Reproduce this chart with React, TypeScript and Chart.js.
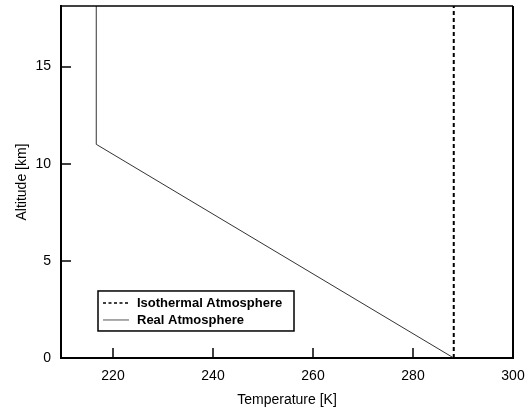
import React, { useEffect, useRef } from "react";
import { Chart, registerables } from "chart.js";

Chart.register(...registerables);

// Temperature profiles [K] against altitude [km]
const realTemps = [288.15, 216.65, 216.65];
const realAlts = [0, 11, 20];
const isoTemps = [288.15, 288.15];
const isoAlts = [0, 20];

const xTicks = [220, 240, 260, 280, 300];
const yTicks = [0, 5, 10, 15];

const seriesLabels = ["Isothermal Atmosphere", "Real Atmosphere"];

const FONT = "'Liberation Sans', Arial, Helvetica, sans-serif";

// Frame, inward tick marks and boxed legend
const framePlugin = {
  id: "frame",
  afterDraw(chart: any) {
    const { ctx, chartArea } = chart;
    const { left, right, top, bottom } = chartArea;
    const xs = chart.scales.x;
    const ys = chart.scales.y;
    ctx.save();
    ctx.strokeStyle = "#000";
    // top and right edges
    ctx.lineWidth = 1.5;
    ctx.beginPath();
    ctx.moveTo(left, top);
    ctx.lineTo(right, top);
    ctx.stroke();
    ctx.lineWidth = 2;
    ctx.beginPath();
    ctx.moveTo(right, top);
    ctx.lineTo(right, bottom);
    ctx.stroke();
    // inward ticks
    ctx.lineWidth = 1.5;
    for (const v of xTicks) {
      const px = Math.round(xs.getPixelForValue(v));
      ctx.beginPath();
      ctx.moveTo(px, bottom);
      ctx.lineTo(px, bottom - 10);
      ctx.stroke();
    }
    for (const v of yTicks) {
      const py = Math.round(ys.getPixelForValue(v));
      ctx.beginPath();
      ctx.moveTo(left, py);
      ctx.lineTo(left + 10, py);
      ctx.stroke();
    }
    // legend box
    const bx = xs.getPixelForValue(217.0);
    const by = ys.getPixelForValue(3.45);
    const bw = 196;
    const bh = 40;
    ctx.fillStyle = "#fff";
    ctx.fillRect(bx, by, bw, bh);
    ctx.lineWidth = 1.5;
    ctx.strokeRect(bx, by, bw, bh);
    ctx.font = `bold 13px ${FONT}`;
    ctx.textBaseline = "middle";
    ctx.fillStyle = "#000";
    const rows = [
      { y: by + 12, dash: [3, 2.5], width: 1.5, color: "#000" },
      { y: by + 29, dash: [], width: 1, color: "#555" },
    ];
    rows.forEach((r, i) => {
      ctx.save();
      ctx.strokeStyle = r.color;
      ctx.lineWidth = r.width;
      ctx.setLineDash(r.dash);
      ctx.beginPath();
      ctx.moveTo(bx + 5, r.y);
      ctx.lineTo(bx + 31, r.y);
      ctx.stroke();
      ctx.restore();
      ctx.fillText(seriesLabels[i], bx + 39, r.y + 0.5);
    });
    ctx.restore();
  },
};

export default function App() {
  const ref = useRef<HTMLCanvasElement>(null);

  useEffect(() => {
    document.body.style.margin = "0";
    const canvas = ref.current;
    if (!canvas) return;
    const chart = new Chart(canvas, {
      type: "line",
      data: {
        datasets: [
          {
            label: seriesLabels[0],
            data: isoTemps.map((t, i) => ({ x: t, y: isoAlts[i] })),
            borderColor: "#000",
            borderWidth: 2,
            borderDash: [4, 3],
            pointRadius: 0,
            tension: 0,
          },
          {
            label: seriesLabels[1],
            data: realTemps.map((t, i) => ({ x: t, y: realAlts[i] })),
            borderColor: "#333",
            borderWidth: 1,
            pointRadius: 0,
            tension: 0,
          },
        ],
      },
      options: {
        responsive: false,
        animation: false,
        layout: { padding: { top: 6, right: 17, left: 0, bottom: 0 } },
        plugins: {
          legend: { display: false },
          tooltip: { enabled: false },
        },
        scales: {
          x: {
            type: "linear",
            min: 209.6,
            max: 300,
            afterBuildTicks: (s: any) => {
              s.ticks = xTicks.map((v) => ({ value: v }));
            },
            afterFit: (s: any) => {
              s.height = 56;
              s.paddingLeft = 0;
              s.paddingRight = 0;
            },
            grid: { display: true, drawOnChartArea: false, drawTicks: false },
            border: { display: true, color: "#000", width: 2 },
            ticks: {
              padding: 10,
              color: "#000",
              font: { family: FONT, size: 14 },
            },
            title: {
              display: true,
              text: "Temperature [K]",
              color: "#000",
              font: { family: FONT, size: 14 },
              padding: { top: 0, bottom: 5 },
            },
          },
          y: {
            type: "linear",
            min: 0,
            max: 18.12,
            afterBuildTicks: (s: any) => {
              s.ticks = yTicks.map((v) => ({ value: v }));
            },
            afterFit: (s: any) => {
              s.width = 61;
              s.paddingTop = 0;
              s.paddingBottom = 0;
            },
            grid: { display: true, drawOnChartArea: false, drawTicks: false },
            border: { display: true, color: "#000", width: 2 },
            ticks: {
              padding: 10,
              color: "#000",
              font: { family: FONT, size: 14 },
            },
            title: {
              display: true,
              text: "Altitude [km]",
              color: "#000",
              font: { family: FONT, size: 14 },
              padding: { top: 14, bottom: 0 },
            },
          },
        },
      },
      plugins: [framePlugin],
    });
    return () => chart.destroy();
  }, []);

  return (
    <div style={{ width: 530, height: 414, background: "#fff" }}>
      <canvas ref={ref} width={530} height={414} />
    </div>
  );
}
